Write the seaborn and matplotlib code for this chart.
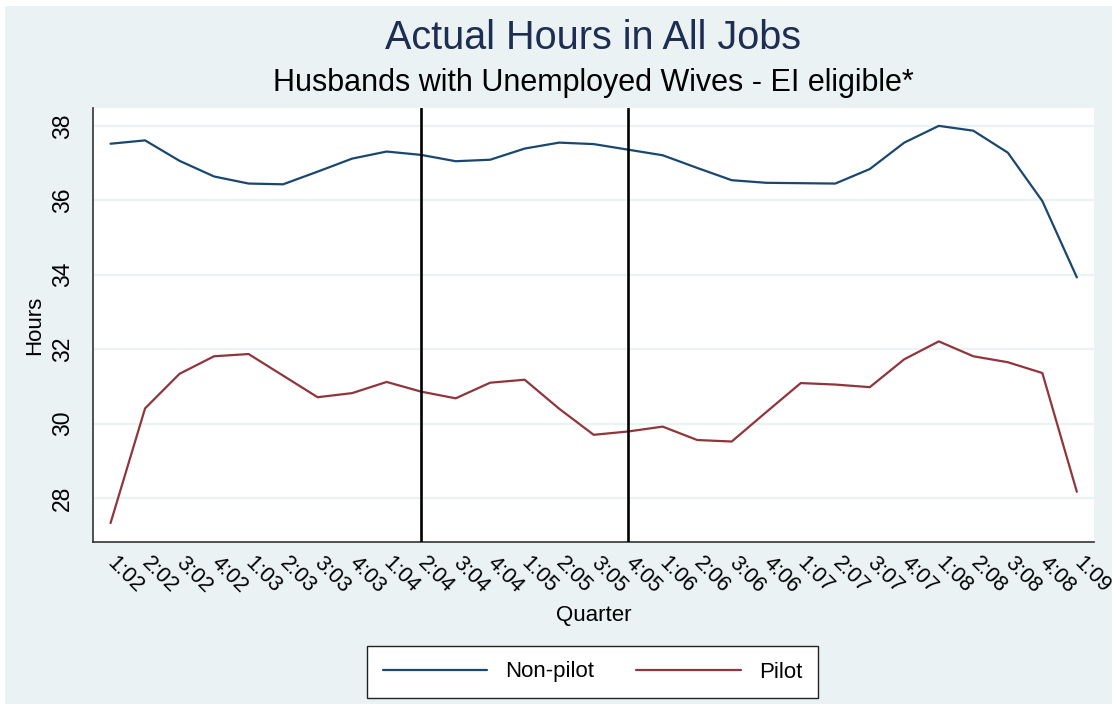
import pandas as pd
import seaborn as sns
import matplotlib
matplotlib.use("Agg")
import matplotlib.pyplot as plt
from matplotlib.patches import Rectangle

# data
quarters = ["1:02", "2:02", "3:02", "4:02", "1:03", "2:03", "3:03", "4:03",
            "1:04", "2:04", "3:04", "4:04", "1:05", "2:05", "3:05", "4:05",
            "1:06", "2:06", "3:06", "4:06", "1:07", "2:07", "3:07", "4:07",
            "1:08", "2:08", "3:08", "4:08", "1:09"]
non_pilot = [37.52, 37.61, 37.06, 36.64, 36.45, 36.43, 36.77, 37.12,
             37.31, 37.22, 37.05, 37.09, 37.39, 37.55, 37.51, 37.36,
             37.21, 36.87, 36.54, 36.47, 36.46, 36.45, 36.84, 37.55,
             38.00, 37.87, 37.28, 35.98, 33.93]
pilot = [27.33, 30.41, 31.34, 31.81, 31.87, 31.29, 30.71, 30.82,
         31.12, 30.86, 30.68, 31.10, 31.18, 30.40, 29.70, 29.79,
         29.92, 29.56, 29.52, 30.31, 31.09, 31.05, 30.98, 31.73,
         32.21, 31.81, 31.65, 31.36, 28.17]
event_quarters = ["2:04", "4:05"]
y_ticks = [28, 30, 32, 34, 36, 38]

df = pd.DataFrame({
    "idx": list(range(len(quarters))) * 2,
    "Hours": non_pilot + pilot,
    "group": ["Non-pilot"] * len(quarters) + ["Pilot"] * len(quarters),
})

sns.set_style("white")
plt.rcParams["font.family"] = ["Liberation Sans", "DejaVu Sans"]
plt.rcParams["text.color"] = "black"
plt.rcParams["axes.labelcolor"] = "black"
plt.rcParams["xtick.color"] = "black"
plt.rcParams["ytick.color"] = "black"

bg = "#EAF2F3"
fig = plt.figure(figsize=(11.12, 7.04), dpi=100, facecolor="white")
fig.patches.append(Rectangle((5 / 1112, 0), 1, 1 - 6 / 704, transform=fig.transFigure,
                             facecolor=bg, edgecolor="none", zorder=-10))
ax = fig.add_axes([0.0839, 0.2301, 0.9000, 0.6165])
ax.set_facecolor("white")

for y in y_ticks:
    ax.axhline(y, color=bg, lw=1.6, zorder=0)

sns.lineplot(data=df, x="idx", y="Hours", hue="group",
             palette={"Non-pilot": "#1A476F", "Pilot": "#90353B"},
             lw=1.6, ax=ax, legend=False, zorder=3)

for q in event_quarters:
    ax.axvline(quarters.index(q), color="black", lw=1.9, zorder=4)

ax.set_xlim(-0.5, 28.5)
ax.set_ylim(26.82, 38.48)
ax.set_xticks(range(len(quarters)))
ax.set_xticklabels(quarters, rotation=-45, ha="left", va="center",
                   rotation_mode="anchor", fontsize=15.5)
ax.set_yticks(y_ticks)
ax.set_yticklabels([str(v) for v in y_ticks], rotation=90, va="center", fontsize=16.5)
ax.tick_params(axis="both", direction="out", length=8, width=1.1, pad=6)
ax.tick_params(axis="both", color="#333333")
ax.tick_params(axis="x", pad=5)

for s in ["top", "right"]:
    ax.spines[s].set_visible(False)
for s in ["left", "bottom"]:
    ax.spines[s].set_color("#333333")
    ax.spines[s].set_linewidth(1.2)

ax.set_xlabel("Quarter", fontsize=16)
ax.set_ylabel("Hours", fontsize=16)
ax.xaxis.set_label_coords(0.5, -0.145)
ax.yaxis.set_label_coords(-0.048, 0.5)

fig.text(0.5337, 1 - 38 / 704, "Actual Hours in All Jobs", ha="center", va="center",
         fontsize=28.5, color="#1E2D52")
fig.text(0.5337, 1 - 83 / 704, "Husbands with Unemployed Wives - EI eligible*",
         ha="center", va="center", fontsize=22, color="black")

handles = [plt.Line2D([], [], color="#1A476F", lw=1.6),
           plt.Line2D([], [], color="#90353B", lw=1.6)]
leg = fig.legend(handles, ["Non-pilot", "Pilot"], loc="center",
                 bbox_to_anchor=(592.5 / 1112, 1 - 672 / 704), ncol=2,
                 fontsize=16, frameon=True, fancybox=False, framealpha=1,
                 handlelength=4.7, handletextpad=0.8, columnspacing=1.9,
                 borderpad=0.7)
leg.get_frame().set_edgecolor("#222222")
leg.get_frame().set_linewidth(1.0)
leg.get_frame().set_facecolor("white")

fig.savefig("out.png", dpi=100, facecolor=fig.get_facecolor())
